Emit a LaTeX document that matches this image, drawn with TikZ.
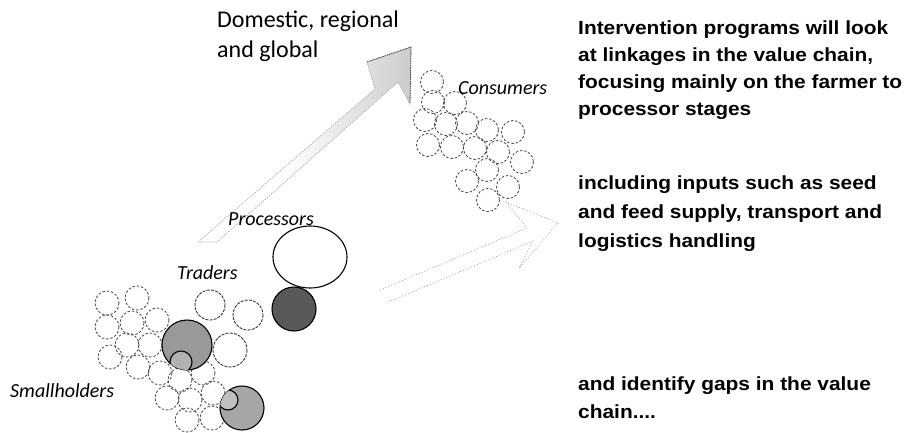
\documentclass[tikz,border=0pt]{standalone}
\usepackage{fontspec}
\setmainfont{Carlito}
\newfontfamily\notefont{Liberation Sans}[FakeStretch=1.1]
% light towards the tail, grey towards the head
\pgfdeclarehorizontalshading{flowshade}{100bp}{color(0bp)=(white); color(45bp)=(white); color(68bp)=(gray!30); color(85bp)=(gray!55); color(100bp)=(gray!70)}
\begin{document}
\begin{tikzpicture}[x=1pt,y=-1pt,
  bead/.style={draw=black!70, line width=0.85pt, dash pattern=on 2.5pt off 1.8pt},
  bigbead/.style={draw=black!80, line width=0.9pt, dash pattern=on 3pt off 1.2pt},
  firm/.style={draw=black, line width=1.1pt},
  stagelabel/.style={inner sep=0pt, anchor=base west, font=\fontsize{20}{24}\selectfont\itshape},
  marketlabel/.style={inner sep=0pt, anchor=base west, font=\fontsize{24}{29}\selectfont},
  note/.style={inner sep=0pt, anchor=base west, font=\notefont\bfseries\fontsize{19}{27}\selectfont},
  faint/.style={draw=gray!75, line width=0.7pt, dash pattern=on 1pt off 2pt}
]
\useasboundingbox (0,0) rectangle (909,432);

% ---------- upward flow towards the markets ----------
\coordinate (u1) at (198,242);
\coordinate (u2) at (375,89);
\coordinate (u3) at (367,62);
\coordinate (utip) at (411,47);
\coordinate (u5) at (410,104);
\coordinate (u6) at (398,82);
\coordinate (u7) at (217,242);
\shade[shading=flowshade, draw=gray!65, line width=0.7pt, dash pattern=on 1.5pt off 1.2pt]
  (u1) -- (u2) -- (u3) -- (utip) -- (u5) -- (u6) -- (u7) -- cycle;
\draw[gray!60!black, line width=0.8pt, dash pattern=on 1.5pt off 0.8pt]
  (u3) -- (utip) -- (u5);

% ---------- side flow towards the input services ----------
\coordinate (s1) at (380,290);
\coordinate (s2) at (527,228);
\coordinate (s3) at (506,202);
\coordinate (stip) at (558,223);
\coordinate (s5) at (519,268);
\coordinate (s6) at (533,241);
\coordinate (s7) at (386,303);
\draw[faint] (s1) -- (s2) -- (s3) -- (stip) -- (s5) -- (s6) -- (s7);

% ---------- consumers ----------
\foreach \x/\y in {432/82,433/102,455/103,425/120,446/124,467/123,487/130,513/132,
                   428/145,452/147,475/148,498/152,522/162,487/170,467/181,508/187,488/200}
  \draw[bead] (\x,\y) circle[radius=11.5];

% ---------- smallholders ----------
\foreach \x/\y in {107/303,137/298,107/327,132/323,157/320,127/345,110/357,150/345,
                   138/367,160/373,180/380,203/373,167/398,190/400,213/393,187/420,212/418}
  \draw[bead] (\x,\y) circle[radius=12];

% ---------- traders ----------
\draw[bigbead] (210,305) circle[radius=15];
\draw[bigbead] (248,315) circle[radius=15];
\draw[bigbead] (230,350) circle[radius=17];

% ---------- aggregating farmers (shaded) ----------
\draw[firm, fill=black!40] (187,345) circle[radius=25];
\begin{scope}
  \clip (187,345) circle[radius=25];
  \draw[firm, fill=black!30] (181,362) circle[radius=11];
\end{scope}
\draw[firm, fill=black!35] (242,408) circle[radius=22];
\begin{scope}
  \clip (242,408) circle[radius=22];
  \draw[firm, fill=black!25] (228,400) circle[radius=10];
\end{scope}

% ---------- processors ----------
\draw[firm] (310,257) ellipse[x radius=37, y radius=31];
\draw[firm, fill=black!65] (294,309) circle[radius=22];

% ---------- labels ----------
\node[marketlabel] (dom1) at (217,27) {Domestic, regional};
\node[marketlabel] (dom2) at (217,57) {and global};
\node[stagelabel] (cons) at (458,94) {Consumers};
\node[stagelabel] (proc) at (228,225) {Processors};
\node[stagelabel] (trad) at (177,279) {Traders};
\node[stagelabel] (small) at (10,397) {Smallholders};

% ---------- notes ----------
\node[note] (n1a) at (578,34) {Intervention programs will look};
\node[note] (n1b) at (578,61) {at linkages in the value chain,};
\node[note] (n1c) at (578,88) {focusing mainly on the farmer to};
\node[note] (n1d) at (578,115) {processor stages};
\node[note] (n2a) at (578,189) {including inputs such as seed};
\node[note] (n2b) at (578,218) {and feed supply, transport and};
\node[note] (n2c) at (578,247) {logistics handling};
\node[note] (n3a) at (578,390) {and identify gaps in the value};
\node[note] (n3b) at (578,418) {chain....};
\end{tikzpicture}
\end{document}
